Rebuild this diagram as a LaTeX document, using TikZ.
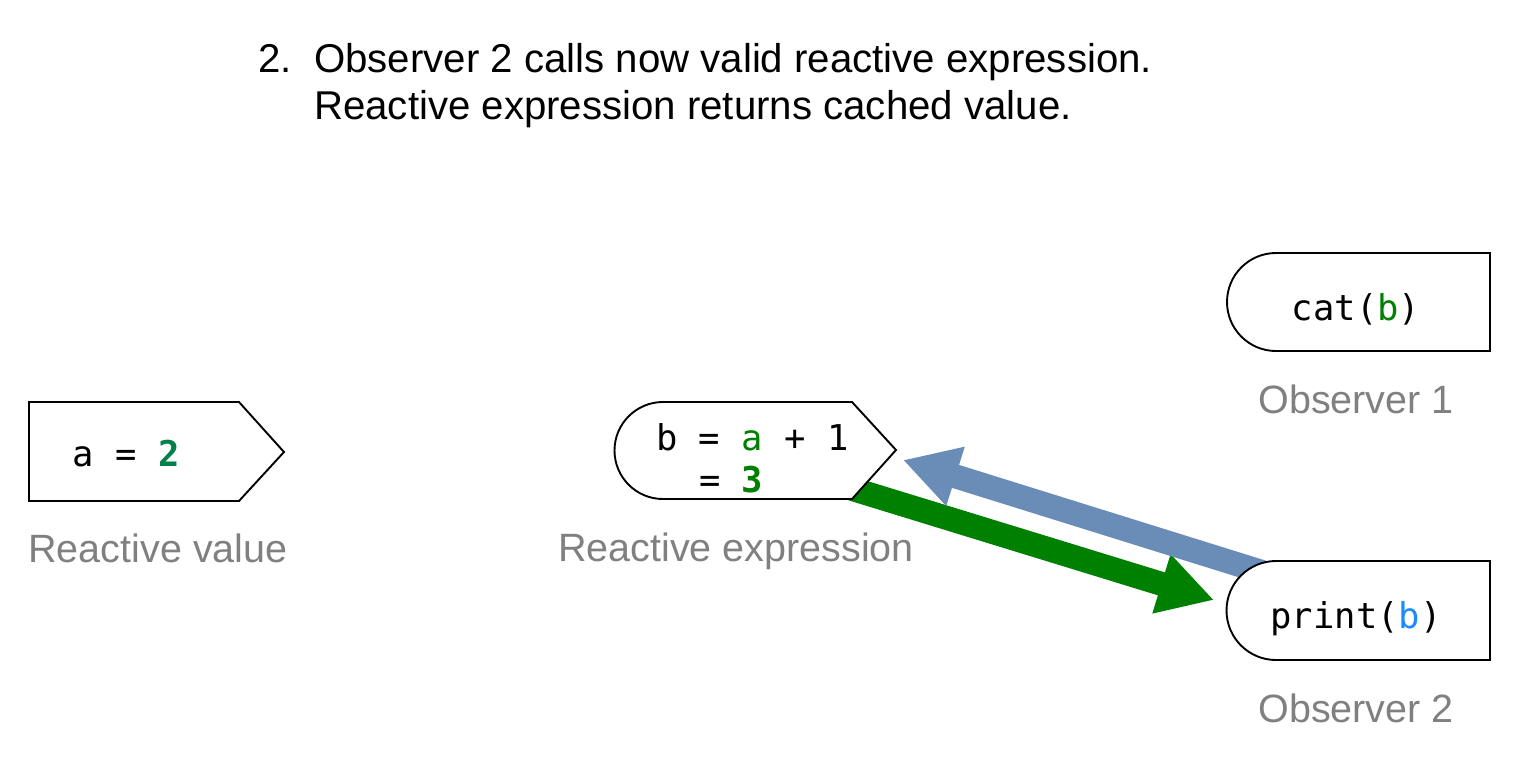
\documentclass[tikz,border=0pt]{standalone}
\usepackage{fontspec}
\setmainfont{Liberation Sans}
\newfontfamily\codefont{DejaVu Sans Mono}
\usetikzlibrary{arrows.meta}
\definecolor{lgray}{HTML}{808080}
\definecolor{cgreen}{HTML}{008000}
\definecolor{tgreen}{HTML}{00804A}
\definecolor{cblue}{HTML}{1A8CFF}
\definecolor{ablue}{HTML}{6A8DB7}
\begin{document}
\begin{tikzpicture}[x=1pt,y=-1pt,
 box/.style={draw=black,line width=1.9pt,fill=white,line join=miter},
 code/.style={anchor=base,inner sep=0pt,font=\codefont\fontsize{35.5}{40}\selectfont},
 lab/.style={anchor=base,inner sep=0pt,text=lgray,font=\fontsize{39.5}{47}\selectfont},
 titletext/.style={anchor=base west,inner sep=0pt,font=\fontsize{40.2}{47}\selectfont},
 fat/.style={line width=24pt,-{Triangle[length=55pt,width=58pt]}}]
\useasboundingbox (0,0) rectangle (1531,782);
% title
\node[titletext] (num) at (258,72) {2.};
\node[titletext] (t1) at (314,72) {Observer 2 calls now valid reactive expression.};
\node[titletext] (t2) at (314,119) {Reactive expression returns cached value.};
% arrows (drawn below boxes)
\coordinate (gs) at (846,487);
\coordinate (ge) at (1214,600);
\coordinate (bs) at (1262,572);
\coordinate (be) at (903,460);
\draw[fat,color=cgreen] (gs) -- (ge);
\draw[fat,color=ablue] (bs) -- (be);
% boxes
\draw[box] (29,402) -- (239,402) -- (284,452) -- (239,501) -- (29,501) -- cycle;
\draw[box] (663,402) -- (852,402) -- (896,450) -- (852,499) -- (663,499) arc[start angle=90,end angle=270,radius=48.5] -- cycle;
\draw[box] (1276,253) -- (1490,253) -- (1490,351) -- (1276,351) arc[start angle=90,end angle=270,radius=49] -- cycle;
\draw[box] (1276,561) -- (1490,561) -- (1490,660) -- (1276,660) arc[start angle=90,end angle=270,radius=49.5] -- cycle;
% code texts
\node[code] (val) at (126,466) {a = \textbf{\color{tgreen}2}};
\node[code,anchor=base west] (expr) at (656,450) {b = {\color{cgreen}a} + 1};
\node[code,anchor=base west] (expr2) at (699,492) {= \textbf{\color{cgreen}3}};
\node[code] (cat) at (1356,320) {cat({\color{cgreen}b})};
\node[code] (prt) at (1356,628) {print({\color{cblue}b})};
% labels
\node[lab] (vallab) at (158,562) {Reactive value};
\node[lab] (exprlab) at (736,561) {Reactive expression};
\node[lab] (o1lab) at (1356,413) {Observer 1};
\node[lab] (o2lab) at (1356,722) {Observer 2};
\end{tikzpicture}
\end{document}
